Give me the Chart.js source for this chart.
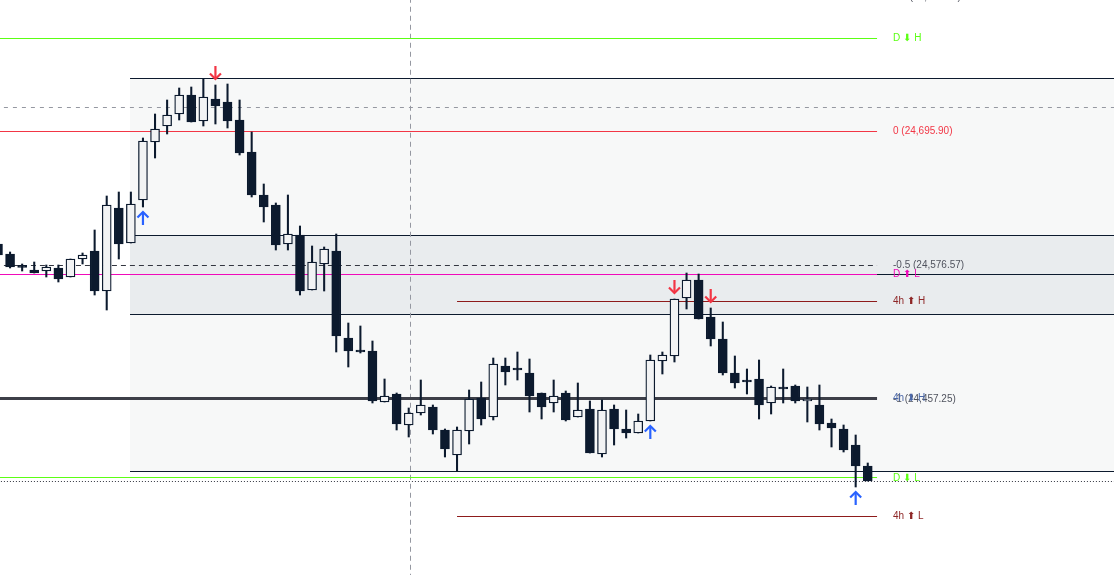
<!DOCTYPE html>
<html><head><meta charset="utf-8">
<script src="https://cdn.jsdelivr.net/npm/chart.js@4.4.1/dist/chart.umd.min.js"></script>
<style>html,body{margin:0;padding:0;background:#fff;overflow:hidden}#wrap{width:1114px;height:575px;position:relative}</style>
</head><body><div id="wrap"><canvas id="c" width="1114" height="575"></canvas></div>
<script>
// ---- candle data (index = bar number) ----
const candleIndex = [0,1,2,3,4,5,6,7,8,9,10,11,12,13,14,15,16,17,18,19,20,21,22,23,24,25,26,27,28,29,30,31,32,33,34,35,36,37,38,39,40,41,42,43,44,45,46,47,48,49,50,51,52,53,54,55,56,57,58,59,60,61,62,63,64,65,66,67,68,69,70,71,72];
const opens = [24595.28,24586.37,24574.80,24572.12,24571.23,24573.91,24565.89,24581.92,24589.04,24553.42,24627.34,24596.17,24634.46,24686.11,24700.36,24711.04,24727.96,24704.81,24724.40,24721.73,24705.70,24677.20,24638.91,24630.01,24595.28,24603.29,24554.31,24577.47,24589.04,24511.57,24499.50,24499.99,24454.58,24461.70,24434.10,24444.78,24450.13,24429.64,24407.38,24428.75,24458.14,24441.22,24486.64,24483.50,24480.40,24462.59,24453.69,24462.59,24441.22,24448.35,24408.27,24448.35,24430.54,24426.97,24437.66,24491.09,24495.54,24547.19,24563.22,24530.27,24510.68,24480.40,24472.80,24475.06,24453.69,24466.60,24468.83,24455.47,24451.91,24435.88,24430.54,24416.29,24397.59];
const highs = [24596.17,24588.15,24577.47,24579.25,24576.58,24576.58,24581.92,24587.26,24607.75,24638.02,24641.58,24641.58,24689.67,24711.04,24723.51,24734.20,24735.09,24742.21,24736.87,24737.76,24723.51,24695.01,24648.71,24631.79,24638.91,24611.31,24593.50,24592.61,24604.18,24524.93,24522.26,24508.90,24475.06,24462.59,24449.24,24474.17,24451.91,24430.54,24432.32,24465.26,24472.39,24493.76,24493.76,24499.10,24492.87,24462.59,24474.17,24464.37,24471.50,24455.47,24456.36,24451.91,24447.45,24443.89,24496.43,24499.10,24546.30,24569.45,24568.56,24538.29,24525.82,24495.54,24483.97,24491.98,24468.83,24483.97,24469.72,24467.94,24469.72,24439.44,24434.10,24425.19,24400.26];
const lows = [24584.59,24573.91,24571.23,24569.45,24565.89,24561.44,24565.89,24577.47,24549.86,24536.50,24581.92,24596.17,24628.23,24671.86,24693.23,24705.70,24703.92,24700.36,24702.14,24698.58,24674.53,24637.13,24614.87,24589.93,24589.93,24549.86,24554.31,24553.42,24499.10,24485.75,24498.21,24453.69,24454.58,24429.64,24423.41,24443.00,24426.08,24405.60,24393.13,24417.18,24434.10,24438.55,24469.72,24474.17,24445.67,24439.44,24445.67,24437.66,24441.22,24409.15,24405.60,24416.29,24422.52,24426.97,24437.66,24479.51,24490.20,24537.40,24528.49,24504.45,24478.62,24467.05,24461.70,24439.44,24443.89,24453.69,24453.69,24436.77,24429.64,24414.51,24410.05,24378.89,24384.23];
const closes = [24585.48,24574.80,24574.50,24569.45,24574.80,24564.11,24581.92,24585.48,24553.42,24630.01,24595.28,24630.90,24687.00,24697.69,24710.15,24727.96,24703.92,24726.18,24718.17,24704.81,24676.30,24638.91,24628.23,24594.39,24604.18,24553.42,24579.25,24590.83,24513.35,24499.99,24499.10,24455.47,24459.92,24434.99,24444.78,24451.91,24429.64,24412.73,24429.64,24457.25,24439.44,24488.41,24481.29,24483.07,24459.92,24450.13,24459.92,24438.55,24447.45,24409.15,24447.45,24430.54,24426.97,24437.66,24491.98,24496.43,24546.30,24563.22,24528.49,24510.68,24480.40,24471.50,24472.39,24451.91,24467.94,24466.16,24455.47,24457.25,24434.99,24431.43,24411.83,24397.59,24384.23];

// ---- signal arrows (bar numbers) ----
const sellSignalBars = [18, 56, 59];
const buySignalBars = [12, 54, 71];

// ---- level prices ----
const fibPrices = [24815.23, 24695.90, 24576.57, 24457.25];
const fibTexts = ['0.5 (24,815.23)', '0 (24,695.90)', '-0.5 (24,576.57)', '-1 (24,457.25)'];
const dailyPrices = [24778.72, 24568.56, 24386.90];
const dailyTexts = ['D \u2B07 H', 'D \u2B06 L', 'D \u2B07 L'];
const h4Prices = [24543.63, 24457.25, 24352.17];
const h4Texts = ['4h \u2B06 H', '4h \u2B07 H', '4h \u2B06 L'];
const rangeBox = [24743.10, 24393.13];
const zoneBox = [24603.29, 24532.94];
const zoneMidLine = 24568.56;
const refDashedPrice = 24716.39;
const dottedPrice = 24383.34;
// bar-number anchors
const rangeStartBar = 10.93, levelEndBar = 72.77, h4StartBar = 38.0, cursorBar = 34.11, labelBar = 74.09;

// ---- view ----
const X_MIN = 0.166, X_MAX = 92.385, Y_MIN = 24300.52, Y_MAX = 24812.56;
const NAVY = '#0c1a2e';
const GREEN = '#5cff14';

const bodies = candleIndex.map(i => ({x: i, y: [Math.min(opens[i], closes[i]), Math.max(opens[i], closes[i])]}));
const wicks = candleIndex.map(i => ({x: i, y: [lows[i], highs[i]]}));
const bodyFill = candleIndex.map(i => closes[i] > opens[i] ? '#f2f3f4' : NAVY);

function hline(y, x0, x1, color, width, dash, order) {
  return {type: 'line', data: [{x: x0, y: y}, {x: x1, y: y}], borderColor: color, borderWidth: width,
    borderDash: dash || [], pointRadius: 0, order: order, tension: 0, fill: false, crisp: 'h'};
}

const datasets = [
  {type: 'bar', data: bodies, backgroundColor: bodyFill, borderColor: NAVY, borderWidth: 1.3,
   borderSkipped: false, barThickness: 9, grouped: false, minBarLength: 2, order: 0},
  {type: 'bar', data: wicks, backgroundColor: NAVY, borderWidth: 0, barThickness: 1.4, grouped: false, order: 1},
  // box borders
  hline(rangeBox[0], rangeStartBar, X_MAX, NAVY, 1, null, 9),
  hline(rangeBox[1], rangeStartBar, X_MAX, NAVY, 1, null, 9),
  hline(zoneBox[0], rangeStartBar, X_MAX, NAVY, 1, null, 9),
  hline(zoneBox[1], rangeStartBar, X_MAX, NAVY, 1, null, 9),
  hline(zoneMidLine, rangeStartBar, X_MAX, NAVY, 1, null, 9),
  // reference lines
  hline(refDashedPrice, -1, X_MAX, '#9598a1', 1, [4, 5], 8),
  hline(dottedPrice, -1, X_MAX, '#333640', 1, [1, 2], 8),
  {type: 'line', data: [{x: cursorBar, y: Y_MAX + 10}, {x: cursorBar, y: Y_MIN - 10}], borderColor: '#9598a1',
   borderWidth: 1, borderDash: [5, 4], pointRadius: 0, order: 8, crisp: 'v'},
  // fib
  hline(fibPrices[1], -1, levelEndBar, '#f23645', 1, null, 6),
  hline(fibPrices[2], -1, levelEndBar, '#333640', 1, [5, 4], 6),
  // daily
  hline(dailyPrices[0], -1, levelEndBar, GREEN, 1, null, 5),
  hline(dailyPrices[1], -1, levelEndBar, '#f00aba', 1, null, 5),
  hline(dailyPrices[2], -1, levelEndBar, GREEN, 1, null, 5),
  // 4h
  hline(h4Prices[0], h4StartBar, levelEndBar, '#8e1b1b', 1, null, 5),
  hline(h4Prices[1], -1, levelEndBar, '#3d3f48', 3, null, 5),
  hline(h4Prices[2], h4StartBar, levelEndBar, '#8e1b1b', 1, null, 5),
];

// snap thin lines onto the pixel grid so they render crisp
const crispPlugin = {
  id: 'crisp',
  beforeDatasetDraw(chart, args) {
    const ds = chart.data.datasets[args.index];
    if (!ds.crisp) return;
    const {ctx, scales: {x, y}} = chart;
    ctx.save();
    if (ds.crisp === 'h') {
      const p = y.getPixelForValue(ds.data[0].y);
      ctx.translate(0, Math.round(p - 0.5) + 0.5 - p);
    } else {
      const p = x.getPixelForValue(ds.data[0].x);
      ctx.translate(Math.round(p - 0.5) + 0.5 - p, 0);
    }
  },
  afterDatasetDraw(chart, args) {
    const ds = chart.data.datasets[args.index];
    if (ds.crisp) chart.ctx.restore();
  }
};

const zonePlugin = {
  id: 'zones',
  beforeDatasetsDraw(chart) {
    const {ctx, scales: {x, y}} = chart;
    ctx.save();
    const l = Math.round(x.getPixelForValue(rangeStartBar)), r = x.getPixelForValue(X_MAX);
    ctx.fillStyle = '#f7f8f8';
    let t = Math.round(y.getPixelForValue(rangeBox[0])), b = Math.round(y.getPixelForValue(rangeBox[1]));
    ctx.fillRect(l, t, r - l, b - t);
    ctx.fillStyle = '#e9ecee';
    t = Math.round(y.getPixelForValue(zoneBox[0])); b = Math.round(y.getPixelForValue(zoneBox[1]));
    ctx.fillRect(l, t, r - l, b - t);
    ctx.restore();
  }
};

function drawArrow(ctx, cx, tipY, dir, color) {
  const len = 13, head = 5.5;
  ctx.strokeStyle = color; ctx.lineWidth = 2.2; ctx.lineCap = 'butt'; ctx.lineJoin = 'miter';
  ctx.beginPath(); ctx.moveTo(cx, tipY - dir * len); ctx.lineTo(cx, tipY - dir * 0.5); ctx.stroke();
  ctx.beginPath(); ctx.moveTo(cx - head, tipY - dir * head); ctx.lineTo(cx, tipY); ctx.lineTo(cx + head, tipY - dir * head); ctx.stroke();
}

const signalPlugin = {
  id: 'signals',
  afterDatasetsDraw(chart) {
    const {ctx, scales: {x, y}} = chart;
    ctx.save();
    sellSignalBars.forEach(i => drawArrow(ctx, x.getPixelForValue(i), y.getPixelForValue(highs[i]) - 6, 1, '#f23645'));
    buySignalBars.forEach(i => drawArrow(ctx, x.getPixelForValue(i), y.getPixelForValue(lows[i]) + 5, -1, '#2962ff'));
    ctx.restore();
  }
};

const fibColors = ['#50535e', '#f23645', '#50535e', '#50535e'];
const dailyColors = [GREEN, '#f00aba', GREEN];
const h4Colors = ['#8e2626', '#4a67a8', '#8e2626'];

const labelPlugin = {
  id: 'labels',
  afterDraw(chart) {
    const {ctx, scales: {x, y}} = chart;
    ctx.save();
    ctx.font = '10px "Liberation Sans", "DejaVu Sans", sans-serif';
    ctx.textBaseline = 'middle';
    ctx.textAlign = 'left';
    const lx = Math.round(x.getPixelForValue(labelBar));
    fibTexts.forEach((t, k) => { ctx.fillStyle = fibColors[k]; ctx.fillText(t, lx, Math.round(y.getPixelForValue(fibPrices[k]))); });
    dailyTexts.forEach((t, k) => { ctx.fillStyle = dailyColors[k]; ctx.fillText(t, lx, Math.round(y.getPixelForValue(dailyPrices[k]))); });
    h4Texts.forEach((t, k) => { ctx.fillStyle = h4Colors[k]; ctx.fillText(t, lx, Math.round(y.getPixelForValue(h4Prices[k])) - 1); });
    ctx.restore();
  }
};

new Chart(document.getElementById('c'), {
  type: 'bar',
  data: {datasets: datasets},
  options: {
    responsive: false,
    animation: false,
    devicePixelRatio: 1,
    layout: {padding: 0},
    plugins: {legend: {display: false}, tooltip: {enabled: false}},
    scales: {
      x: {type: 'linear', min: X_MIN, max: X_MAX, offset: false, display: false},
      y: {type: 'linear', min: Y_MIN, max: Y_MAX, display: false}
    }
  },
  plugins: [crispPlugin, zonePlugin, signalPlugin, labelPlugin]
});
</script>
</body></html>
